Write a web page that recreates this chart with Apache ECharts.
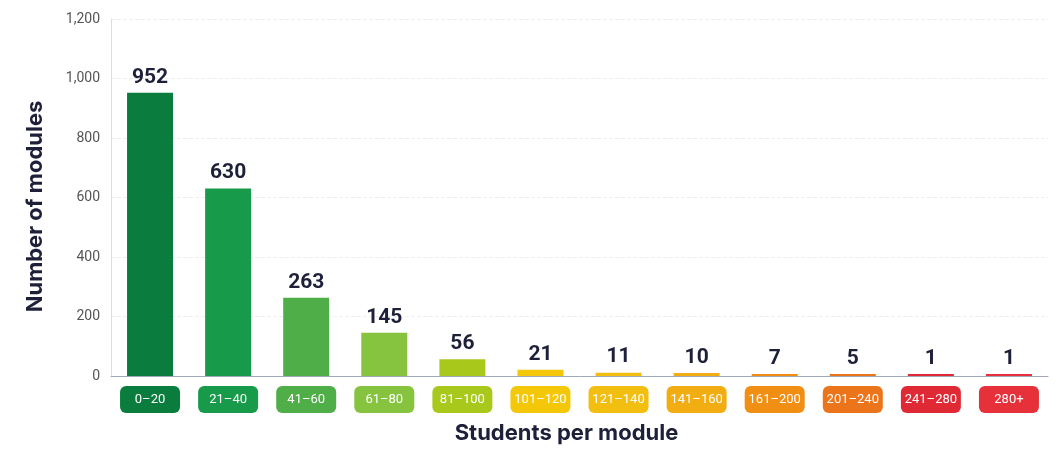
<!DOCTYPE html>
<html>
<head>
<meta charset="utf-8">
<script src="https://cdn.jsdelivr.net/npm/echarts@6/dist/echarts.min.js"></script>
<style>
  html, body { margin: 0; padding: 0; background: #ffffff; }
  #chart { width: 1056px; height: 452px; }
</style>
</head>
<body>
<div id="chart"></div>
<script>
// Module size bands (students per module) and how many modules fall in each
const categories = ['0–20', '21–40', '41–60', '61–80', '81–100', '101–120', '121–140', '141–160', '161–200', '201–240', '241–280', '280+'];
const moduleCounts = [952, 630, 263, 145, 56, 21, 11, 10, 7, 5, 1, 1];
const bandColors = ['#0a7d3e', '#189a4b', '#4fae48', '#86c440', '#a9c81c', '#f4c808', '#f2be10', '#f1ad12', '#f08f14', '#ec741a', '#df2a36', '#e6313a'];
const yTicks = [0, 200, 400, 600, 800, 1000, 1200];

// One rich-text style per band so each axis label gets its own coloured pill
const rich = {};
bandColors.forEach((c, i) => {
  rich['b' + i] = {
    backgroundColor: c,
    color: '#ffffff',
    fontFamily: 'Roboto',
    fontSize: 13,
    width: 60,
    height: 27,
    lineHeight: 27,
    align: 'center',
    borderRadius: 6
  };
});

const chart = echarts.init(document.getElementById('chart'), null, { renderer: 'canvas' });
chart.setOption({
  backgroundColor: '#ffffff',
  animation: false,
  grid: { left: 111, right: 8, top: 19, bottom: 76 },
  xAxis: {
    type: 'category',
    data: categories,
    name: 'Students per module',
    nameLocation: 'middle',
    nameGap: 46,
    nameTextStyle: { fontFamily: 'Inter', fontWeight: 700, fontSize: 22, color: '#1d2038', padding: [0, 26, 0, 0] },
    axisLine: { lineStyle: { color: '#a3a8b8', width: 1 } },
    axisTick: { show: false },
    axisLabel: {
      interval: 0,
      margin: 10,
      formatter: (v, i) => '{b' + i + '|' + v + '}',
      rich: rich
    }
  },
  yAxis: {
    type: 'value',
    min: 0,
    max: yTicks[yTicks.length - 1],
    interval: 200,
    name: 'Number of modules',
    nameLocation: 'middle',
    nameGap: 65,
    nameTextStyle: { fontFamily: 'Inter', fontWeight: 700, fontSize: 22, color: '#1d2038', padding: [0, 18, 0, 0] },
    axisLine: { show: true, lineStyle: { color: '#dcdde2' } },
    axisTick: { show: false },
    axisLabel: {
      margin: 11,
      fontFamily: 'Roboto',
      fontSize: 14,
      color: '#555555',
      formatter: v => v.toLocaleString('en-US')
    },
    splitLine: { lineStyle: { color: '#eeeeee', type: 'dashed' } }
  },
  series: [{
    type: 'bar',
    data: moduleCounts.map((v, i) => ({ value: v, itemStyle: { color: bandColors[i] } })),
    barWidth: 46,
    barMinHeight: 2,
    label: {
      show: true,
      position: 'top',
      distance: 5,
      fontFamily: 'Roboto',
      fontWeight: 700,
      fontSize: 21,
      color: '#1d2038'
    }
  }]
});
</script>
</body>
</html>
